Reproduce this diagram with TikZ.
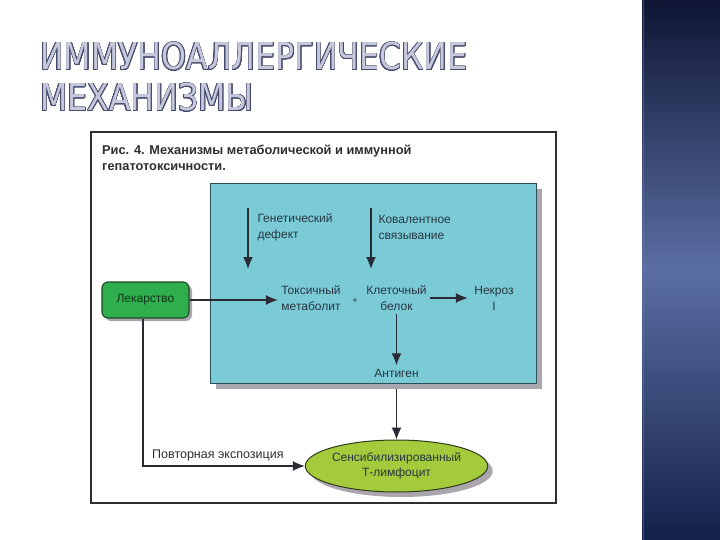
\documentclass[tikz,border=0pt]{standalone}
\usepackage{fontspec}
\setmainfont{Liberation Sans}
\newfontfamily\titlefont{DejaVu Sans}
\usepackage{contour}
\contourlength{0.65pt}
\contournumber{24}
\usetikzlibrary{arrows.meta,shapes.geometric,shadows}
\definecolor{bandtop}{HTML}{0E1634}
\definecolor{bandmid}{HTML}{5B6EA3}
\definecolor{bandbot}{HTML}{14214A}
\definecolor{titleline}{HTML}{484C6E}
\definecolor{titlefill}{HTML}{C6C8DB}
\definecolor{panelblue}{HTML}{7BCBD7}
\definecolor{panelline}{HTML}{2C4E58}
\definecolor{shadowc}{HTML}{ABA5AE}
\definecolor{druggreen}{HTML}{2EAE4C}
\definecolor{drugline}{HTML}{1A4A25}
\definecolor{cellgreen}{HTML}{A3CB3C}
\definecolor{cellline}{HTML}{2F3A1A}
\definecolor{arrowc}{HTML}{2A2A35}
\definecolor{textc}{HTML}{263640}
\definecolor{framec}{HTML}{2E2E2E}
\tikzset{
  lbl/.style={font=\fontsize{12}{16}\selectfont, text=textc, align=center},
  arr/.style={draw=arrowc, line width=1.4pt, -{Latex[length=12pt,width=10pt]}},
  thinarr/.style={draw=arrowc, line width=1.1pt, -{Latex[length=12pt,width=10pt]}},
  shad/.style={drop shadow={shadow xshift=#1, shadow yshift=-#1, fill=shadowc, opacity=1}},
}
\begin{document}
\begin{tikzpicture}[x=1pt,y=-1pt]
\useasboundingbox (0,0) rectangle (720,540);
\fill[white] (0,0) rectangle (720,540);
% right band
\shade[top color=bandtop, bottom color=bandbot, middle color=bandmid] (642,0) rectangle (720,540);
\draw[color=bandmid!80!cyan, line width=1pt, opacity=0.5] (643.5,0) -- (643.5,540);
% title
\node[anchor=base west, inner sep=0] (title1) at (40,70)
  {\scalebox{0.855}[1]{\titlefont\fontsize{37}{37}\selectfont\contour{titleline}{\textcolor{titlefill}{ИММУНОАЛЛЕРГИЧЕСКИЕ}}}};
\node[anchor=base west, inner sep=0] (title2) at (40,111)
  {\scalebox{0.855}[1]{\titlefont\fontsize{37}{37}\selectfont\contour{titleline}{\textcolor{titlefill}{МЕХАНИЗМЫ}}}};
% frame
\draw[framec, line width=1.2pt] (91,132) rectangle (556,503);
\node[anchor=west, align=left, inner sep=0, text=framec,
  font=\bfseries\fontsize{12.8}{15.5}\selectfont] (cap) at (102,158)
  {Рис. 4. Механизмы метаболической и иммунной\\гепатотоксичности.};
% line from panel to cell (under panel)
\coordinate (pbot) at (396.5,389);
% panel
\node[draw=white, line width=2pt, inner sep=0, minimum width=328pt, minimum height=202pt, anchor=north west] (panelw) at (209,182) {};
\node[shad=6pt, fill=panelblue, draw=panelline, line width=0.8pt, inner sep=0,
  minimum width=326pt, minimum height=200pt, anchor=north west] (panel) at (210,183) {};
% texts
\node[lbl, anchor=west, align=left] (gen) at (254,227) {Генетический\\дефект};
\node[lbl, anchor=west, align=left] (cov) at (375,227) {Ковалентное\\связывание};
\node[lbl] (tox) at (311,298) {Токсичный\\метаболит};
\node[lbl, font=\fontsize{9}{9}\selectfont] (plus) at (355,301) {+};
\node[lbl] (prot) at (396.5,298) {Клеточный\\белок};
\node[lbl] (necr) at (494,298) {Некроз\\I};
\node[lbl] (antigen) at (396.5,373) {Антиген};
\coordinate (g1) at (248,208); \coordinate (g2) at (248,269);
\coordinate (c1) at (371,208); \coordinate (c2) at (371,269);
\draw[arr] (g1) -- (g2);
\draw[arr] (c1) -- (c2);
% drug box
\node[shad=3pt, fill=druggreen, draw=drugline, line width=1.1pt, rounded corners=6pt,
  minimum width=87pt, minimum height=36pt, inner sep=0, text=drugline!70!black,
  font=\fontsize{12}{14}\selectfont] (drug) at (145.5,300) {Лекарство};
% cell ellipse
\node[ellipse, shad=5pt, fill=cellgreen, draw=cellline, line width=1pt, inner sep=0,
  minimum width=161pt, minimum height=52pt, align=center, text=textc,
  font=\fontsize{12}{14.5}\selectfont] (tcell) at (396.5,466) {Сенсибилизированный\\Т-лимфоцит};
\node[anchor=west, inner sep=0, text=framec, font=\fontsize{12.5}{14}\selectfont] (repeat) at (152,455) {Повторная экспозиция};
% connectors
\draw[thinarr] (drug.east) -- (tox.west |- drug.east);
\draw[arr] (prot.east) -- ([xshift=-3pt]necr.west |- prot.east);
\draw[arr] (prot.south) -- (antigen.north);
\draw[thinarr] (pbot) -- (tcell.north);
\draw[thinarr] (drug.south -| 143,0) |- (tcell.west);
\end{tikzpicture}
\end{document}
